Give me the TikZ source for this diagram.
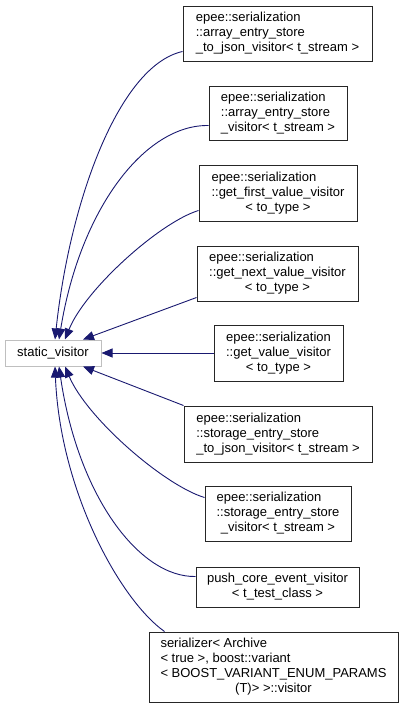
\documentclass[tikz,border=0pt]{standalone}
\usepackage{fontspec}
\setmainfont{Liberation Sans}
\usetikzlibrary{arrows.meta}
\definecolor{edgeblue}{RGB}{25,25,112}
\newcommand{\lastrow}[1]{\multicolumn{1}{@{}c@{}}{#1}}

\begin{document}
\begin{tikzpicture}[x=1pt, y=-1pt, >={Triangle[length=11pt,width=9pt]},
  cls/.style={draw=black!85, line width=1pt, fill=white, inner sep=3pt,
    font=\fontsize{13}{15}\selectfont},
  base/.style={cls, draw=black!25},
  inh/.style={->, draw=edgeblue, fill=none, line width=0.9pt}]
  \useasboundingbox (0,0) rectangle (412,707);

  \node[base, minimum width=96pt, minimum height=26pt] (sv) at (53,353) {static\_visitor};

  \node[cls, minimum width=189pt, minimum height=55pt] (c1) at (277.5,33.5)
    {\begin{tabular}{@{}l@{}}epee::serialization\\::array\_entry\_store\\\lastrow{\_to\_json\_visitor< t\_stream >}\end{tabular}};
  \node[cls, minimum width=138pt, minimum height=54pt] (c2) at (278,113)
    {\begin{tabular}{@{}l@{}}epee::serialization\\::array\_entry\_store\\\lastrow{\_visitor< t\_stream >}\end{tabular}};
  \node[cls, minimum width=158pt, minimum height=56pt] (c3) at (278,193)
    {\begin{tabular}{@{}l@{}}epee::serialization\\::get\_first\_value\_visitor\\\lastrow{< to\_type >}\end{tabular}};
  \node[cls, minimum width=161pt, minimum height=55pt] (c4) at (277.5,273.5)
    {\begin{tabular}{@{}l@{}}epee::serialization\\::get\_next\_value\_visitor\\\lastrow{< to\_type >}\end{tabular}};
  \node[cls, minimum width=129pt, minimum height=56pt] (c5) at (278.5,353)
    {\begin{tabular}{@{}l@{}}epee::serialization\\::get\_value\_visitor\\\lastrow{< to\_type >}\end{tabular}};
  \node[cls, minimum width=188pt, minimum height=56pt] (c6) at (278,434)
    {\begin{tabular}{@{}l@{}}epee::serialization\\::storage\_entry\_store\\\lastrow{\_to\_json\_visitor< t\_stream >}\end{tabular}};
  \node[cls, minimum width=146pt, minimum height=55pt] (c7) at (278,513.5)
    {\begin{tabular}{@{}l@{}}epee::serialization\\::storage\_entry\_store\\\lastrow{\_visitor< t\_stream >}\end{tabular}};
  \node[cls, minimum width=163pt, minimum height=40pt] (c8) at (277.5,587)
    {\begin{tabular}{@{}l@{}}push\_core\_event\_visitor\\\lastrow{< t\_test\_class >}\end{tabular}};
  \node[cls, minimum width=249pt, minimum height=70pt] (c9) at (273.5,667)
    {\begin{tabular}{@{}l@{}}serializer< Archive\\< true >, boost::variant\\< BOOST\_VARIANT\_ENUM\_PARAMS\\\lastrow{(T)> >::visitor}\end{tabular}};

  % inheritance arrows
  \draw[inh] ([yshift=10pt]c1.south west) .. controls +(-63,14) and +(15,-140) .. ([xshift=2pt]sv.north);
  \draw[inh] ([yshift=15pt]c2.south west) .. controls +(-64,-1) and +(21,-130) .. ([xshift=6pt]sv.north);
  \draw[inh] ([yshift=11pt]c3.south west) .. controls +(-39,12) and +(20,-50) .. ([xshift=12pt]sv.north);
  \draw[inh] ([yshift=4pt]c4.south west) -- ([xshift=30pt]sv.north);
  \draw[inh] (c5.west) -- (sv.east);
  \draw[inh] (c6.north west) -- ([xshift=30pt]sv.south);
  \draw[inh] ([yshift=-12pt]c7.north west) .. controls +(-40,-12) and +(22,52) .. ([xshift=12pt]sv.south);
  \draw[inh] ([yshift=-10pt]c8.north west) .. controls +(-56,1) and +(19,130) .. ([xshift=6pt]sv.south);
  \draw[inh] ([xshift=16pt]c9.north west) .. controls +(-45,-32) and +(5,124) .. ([xshift=2pt]sv.south);
\end{tikzpicture}
\end{document}
